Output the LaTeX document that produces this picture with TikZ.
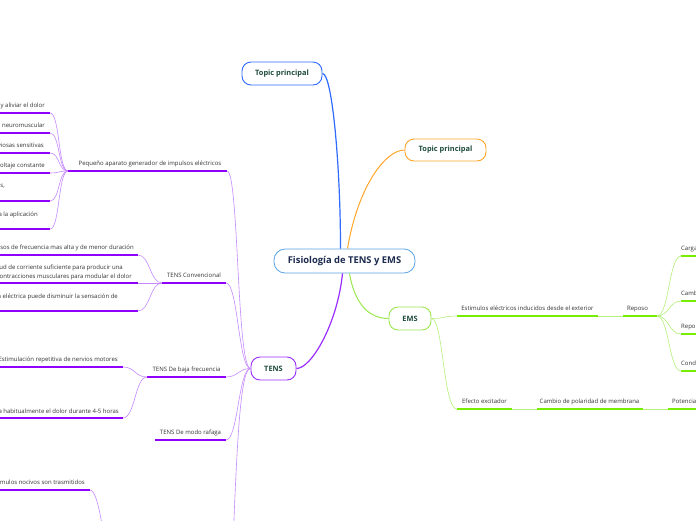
\documentclass[tikz,border=0pt]{standalone}
\usepackage{fontspec}
\setmainfont{Open Sans}
\definecolor{cblue}{HTML}{5BA4E6}
\definecolor{tblue}{HTML}{2F6BFF}
\definecolor{torange}{HTML}{FFA62B}
\definecolor{tgreen}{HTML}{9BE84E}
\definecolor{tpurple}{HTML}{9A2EFF}
\definecolor{topictxt}{HTML}{1E4B3C}
\definecolor{centertxt}{HTML}{1C2B4F}
\definecolor{lbltxt}{HTML}{333333}
\definecolor{pstrong}{HTML}{8F00FF}
\definecolor{plight}{HTML}{C58AFF}
\definecolor{gstrong}{HTML}{77EE00}
\definecolor{glight}{HTML}{B5F07A}
\begin{document}
\begin{tikzpicture}[x=1pt,y=-1pt,
  topic/.style={draw, rounded corners=9pt, line width=0.9pt, fill=white, text=topictxt,
    font=\bfseries\fontsize{7.4}{8.5}\selectfont, minimum height=23pt, inner sep=0pt},
  lbl/.style={font=\fontsize{6}{7}\selectfont, text=lbltxt, inner sep=0pt},
  pthick/.style={draw=pstrong, line width=1.3pt},
  pthin/.style={draw=plight, line width=0.6pt},
  gthick/.style={draw=gstrong, line width=1.3pt},
  gthin/.style={draw=glight, line width=0.6pt}]
\clip (0,0) rectangle (696,520);
\fill[white] (0,0) rectangle (696,520);

% main nodes
\node[topic, draw=cblue, line width=0.8pt, minimum width=141pt, minimum height=24pt, rounded corners=11pt,
  font=\bfseries\fontsize{9.4}{11}\selectfont, text=centertxt] (root) at (344.5,261) {Fisiología de TENS y EMS};
\node[topic, draw=tblue, minimum width=80pt] (t1) at (282,73.5) {Topic principal};
\node[topic, draw=torange, minimum width=81pt, minimum height=22pt] (t2) at (445.5,150) {Topic principal};
\node[topic, draw=tgreen, minimum width=42pt] (ems) at (410,318.5) {EMS};
\node[topic, draw=tpurple, minimum width=45pt] (tens) at (273.5,368.5) {TENS};

% main connectors
\draw[tblue, line width=1.2pt] ([xshift=-4pt]root.north) .. controls +(0,-80) and +(10,0) .. (t1.east);
\draw[torange, line width=1pt] ([xshift=3pt]root.north) .. controls +(10,-60) and +(-20,0) .. (t2.west);
\draw[tgreen, line width=1pt] ([xshift=5pt]root.south) .. controls +(5,30) and +(-20,0) .. (ems.west);
\draw[tpurple, line width=1.2pt] ([xshift=-2pt]root.south) .. controls +(-5,50) and +(15,0) .. (tens.east);

% ---------- TENS: Pequeño aparato ----------
\coordinate (pqL) at (68,171);
\coordinate (pqR) at (227,171);
\draw[pthick] (pqL) -- (pqR);
\node[lbl, anchor=base] (pq) at (150,165.5) {Pequeño aparato generador de impulsos eléctricos};
\draw[pthin] (pqR) .. controls +(12,0) and +(-14,0) .. (tens.west);
\foreach \i/\uy/\by/\tx/\txt in {
  a/113/107/45/{y aliviar el dolor},
  b/133/127/45/{n neuromuscular},
  c/153/147/44/{viosas sensitivas},
  d/173/167/45/{oltaje constante},
  e/201/187/5/{s,},
  f/229/216/38/{a la aplicación}} {
  \coordinate (pq\i) at (50,\uy);
  \coordinate (pq\i0) at (-5,\uy);
  \draw[pthick] (pq\i0) -- (pq\i);
  \node[lbl, anchor=base east] (pq\i t) at (\tx,\by) {\txt};
  \draw[pthin] (pqL) .. controls +(-10,0) and +(10,0) .. (pq\i);
}

% ---------- TENS Convencional ----------
\coordinate (cvL) at (162,283);
\coordinate (cvR) at (226,283);
\draw[pthick] (cvL) -- (cvR);
\node[lbl, anchor=base] (cv) at (194,277.5) {TENS Convencional};
\draw[pthin] (cvR) .. controls +(12,0) and +(-12,0) .. (tens.west);
\foreach \i/\uy in {a/255, b/283, c/311} {
  \coordinate (cv\i) at (138,\uy);
  \coordinate (cv\i0) at (-5,\uy);
  \draw[pthick] (cv\i0) -- (cv\i);
  \draw[pthin] (cvL) .. controls +(-12,0) and +(12,0) .. (cv\i);
}
\node[lbl, anchor=base east] (cvat) at (134,249.5) {sos de frecuencia mas alta y de menor duración};
\node[lbl, anchor=base east] (cvbt) at (123,269) {tud de corriente suficiente para producir una};
\node[lbl, anchor=base east] (cvbu) at (132,278) {contracciones musculares para modular el dolor};
\node[lbl, anchor=base east] (cvct) at (118,298) {n eléctrica puede disminuir la sensación de};

% ---------- TENS De baja frecuencia ----------
\coordinate (bjL) at (147,377);
\coordinate (bjR) at (226,377);
\draw[pthick] (bjL) -- (bjR);
\node[lbl, anchor=base] (bj) at (186.5,371.5) {TENS De baja frecuencia};
\draw[pthin] (bjR) .. controls +(12,0) and +(-12,0) .. (tens.west);
\foreach \i/\uy in {a/367, b/418} {
  \coordinate (bj\i) at (123,\uy);
  \coordinate (bj\i0) at (-5,\uy);
  \draw[pthick] (bj\i0) -- (bj\i);
  \draw[pthin] (bjL) .. controls +(-12,0) and +(12,0) .. (bj\i);
}
\node[lbl, anchor=base east] (bjat) at (118,361.5) {Estimulación repetitiva de nervios motores};
\node[lbl, anchor=base east] (bjbt) at (119,413) {a habitualmente el dolor durante 4-5 horas};

% ---------- TENS De modo rafaga ----------
\coordinate (rfL) at (155,440);
\coordinate (rfR) at (226,440);
\draw[pthick] (rfL) -- (rfR);
\node[lbl, anchor=base] (rf) at (190.5,434.5) {TENS De modo rafaga};
\draw[pthin] (rfR) .. controls +(12,0) and +(-12,0) .. (tens.west);

% ---------- branch continuing below ----------
\coordinate (bot) at (230,620);
\draw[pthin] (tens.west) .. controls +(-12,0) and +(6,-150) .. (bot);
\coordinate (nvR) at (90,490);
\coordinate (nvL) at (-5,490);
\coordinate (nvP) at (108,600);
\draw[pthick] (nvL) -- (nvR);
\node[lbl, anchor=base east] (nvt) at (85,484.5) {ímulos nocivos son trasmitidos};
\draw[pthin] (nvR) .. controls +(10,0) and +(0,-40) .. (nvP);

% ---------- EMS ----------
\coordinate (esL) at (457,316);
\coordinate (esR) at (598,316);
\draw[gthick] (esL) -- (esR);
\node[lbl, anchor=base] (es) at (527.5,310.5) {Estimulos eléctricos inducidos desde el exterior};
\draw[gthin] (ems.east) .. controls +(13,0) and +(-13,0) .. (esL);

\coordinate (rpL) at (623,316);
\coordinate (rpR) at (657,316);
\draw[gthin] (esR) -- (rpL);
\draw[gthick] (rpL) -- (rpR);
\node[lbl, anchor=base] (rp) at (637.5,310.5) {Reposo};
\foreach \i/\uy/\txt in {a/256/Carga, b/301/Camb, c/334/Repo, d/371/Cond} {
  \coordinate (rp\i) at (681,\uy);
  \coordinate (rp\i0) at (705,\uy);
  \draw[gthick] (rp\i) -- (rp\i0);
  \node[lbl, anchor=base west] (rp\i t) at (681,\uy-5.5) {\txt};
  \draw[gthin] (rpR) .. controls +(12,0) and +(-12,0) .. (rp\i);
}

\coordinate (efL) at (457,409);
\coordinate (efR) at (512,409);
\draw[gthick] (efL) -- (efR);
\node[lbl, anchor=base] (ef) at (484.5,403.5) {Efecto excitador};
\draw[gthin] (ems.east) .. controls +(12,0) and +(-14,0) .. (efL);

\coordinate (cbL) at (537,409);
\coordinate (cbR) at (643,409);
\draw[gthin] (efR) -- (cbL);
\draw[gthick] (cbL) -- (cbR);
\node[lbl, anchor=base] (cb) at (589.5,403.5) {Cambio de polaridad de membrana};

\coordinate (ptL) at (668,409);
\coordinate (ptR) at (705,409);
\draw[gthin] (cbR) -- (ptL);
\draw[gthick] (ptL) -- (ptR);
\node[lbl, anchor=base west] (pt) at (672,403.5) {Potencia};
\end{tikzpicture}
\end{document}
